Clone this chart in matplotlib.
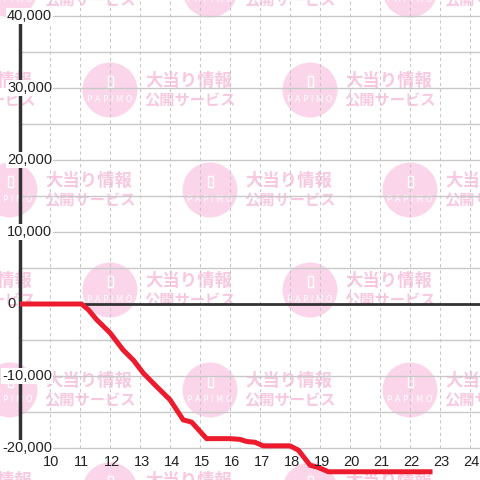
import matplotlib.pyplot as plt
from matplotlib.patches import Circle, Rectangle

# data
hours = [9.0, 11.05, 11.28, 11.56, 12.0, 12.44, 12.78, 13.11, 13.56, 14.0,
         14.44, 14.72, 15.22, 16.0, 16.33, 16.56, 16.83, 17.11, 18.0, 18.28,
         18.67, 18.94, 19.28, 22.75]
balance = [0, 0, -800, -2200, -4000, -6400, -7800, -9600, -11500, -13300,
           -16100, -16400, -18700, -18700, -18800, -19100, -19200, -19700,
           -19700, -20300, -22400, -22700, -23300, -23300]
x_ticks = list(range(10, 25))
y_ticks = [-20000, -10000, 0, 10000, 20000, 30000, 40000]
y_grid = list(range(-20000, 40001, 5000))

RED = '#ec1c2e'
DARK = '#333333'
PINK_BG = '#fbd5ea'
PINK_TX = '#f7c8e0'

fig = plt.figure(figsize=(4.8, 4.8), dpi=100)

# watermark layer (pixel coords)
bg = fig.add_axes([0, 0, 1, 1], zorder=0)
bg.set_xlim(0, 480)
bg.set_ylim(480, 0)
bg.axis('off')
for row in range(6):
    cy = -10 + 100 * row
    x0 = 10 if row % 2 == 0 else 110
    for cx in range(x0 - 200, 600, 200):
        bg.add_patch(Circle((cx, cy), 27.5, color=PINK_BG, lw=0))
        bg.add_patch(Rectangle((cx - 2.5, cy - 14), 5, 11, fill=False,
                               ec='white', lw=1))
        bg.text(cx, cy + 10, 'P A P I M O', color='white', fontsize=6,
                ha='center', va='center', family='DejaVu Sans')
        bg.text(cx + 35, cy - 9, '大当り情報', color=PINK_TX, fontsize=12.5,
                fontweight='bold', ha='left', va='center',
                family='Noto Sans CJK JP')
        bg.text(cx + 34, cy + 10, '公開サービス', color=PINK_TX, fontsize=11,
                fontweight='bold', ha='left', va='center',
                family='Noto Sans CJK JP')

ax = fig.add_axes([0, 0, 1, 1], zorder=1)
ax.patch.set_visible(False)
ax.set_xlim(8.333, 24.333)
ax.set_ylim(-24444, 42222)
ax.axis('off')

for v in y_grid:
    ax.plot([9, 24.333], [v, v], color='#c8c8c8', lw=1, zorder=1)
for h in x_ticks:
    ax.plot([h, h], [-20000, 42222], color='#c6c6c6', lw=0.75,
            dashes=(3, 3), zorder=1)

ax.plot([9, 9], [-20000, 40000], color=DARK, lw=2.5, zorder=2)
ax.plot([9, 24.333], [0, 0], color=DARK, lw=2, zorder=2)

ax.plot(hours, balance, color=RED, lw=3.6, solid_joinstyle='round',
        solid_capstyle='butt', zorder=3)

lbl_kw = dict(fontsize=10.5, color='#222222', family='Liberation Sans', zorder=4)
for h in x_ticks:
    ax.text(h + 0.05, -21950, str(h), ha='center', va='center', **lbl_kw)
for v in y_ticks:
    x = 8.57 if v >= 0 else 8.40
    label = f'{v:,}'
    bb = None if v == 0 else dict(facecolor='white', edgecolor='none', pad=0.6)
    ax.text(x, v, label, ha='left', va='center', bbox=bb, **lbl_kw)

fig.savefig('out.png', dpi=100)
